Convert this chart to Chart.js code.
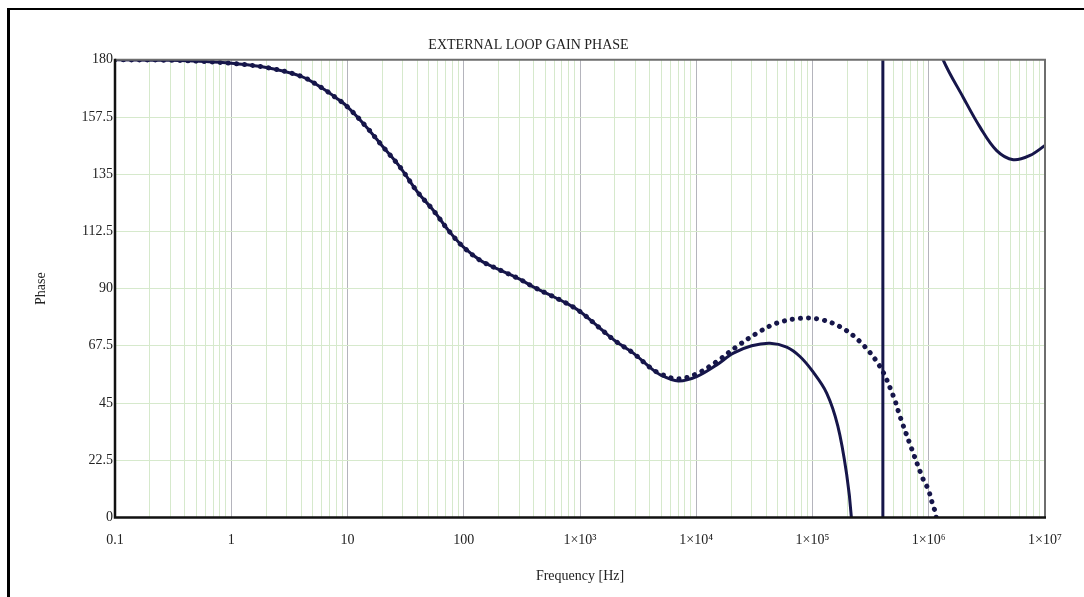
<!DOCTYPE html>
<html>
<head>
<meta charset="utf-8">
<title>External loop gain phase</title>
<script src="https://cdn.jsdelivr.net/npm/chart.js@4.4.1/dist/chart.umd.min.js"></script>
<style>
  html, body { margin: 0; padding: 0; background: #fff; }
  #wrap { position: relative; width: 1084px; height: 597px; overflow: hidden; }
  #frame { position: absolute; left: 7px; top: 8px; width: 1100px; height: 620px;
           border-left: 3px solid #000; border-top: 2px solid #000; }
  #chart { position: absolute; left: 0; top: 0; }
</style>
</head>
<body>
<div id="wrap">
  <div id="frame"></div>
  <canvas id="chart" width="1084" height="597"></canvas>
</div>
<script>
// solid curve (full loop)
var solidFreq  = [0.1, 0.3, 0.6, 1, 2, 4, 6, 8, 10, 14.6, 20, 28.3, 40, 54.7, 75, 99, 140, 205, 300, 396, 550, 767, 1000, 1486, 2000, 2877, 4000, 5000, 7000, 10090, 15000, 20840, 30000, 43050, 60000, 78000, 100000, 132400, 165000, 196700, 216000, 260000, 320000, 403000];
var solidPhase = [180, 179.8, 179.3, 178.6, 177, 173.5, 169, 165, 161.5, 153.5, 146, 137.8, 128, 120.8, 112.5, 106.4, 101, 97.3, 93.8, 90.7, 87.5, 84.2, 81, 74.4, 69.5, 64.6, 59, 55.9, 53.7, 55.4, 60, 64.6, 67.5, 68.5, 67, 63.3, 57.5, 48.9, 36, 17, 0, -60, -130, -190];

// phase wrap (vertical jump)
var wrapFreq  = [403000, 403000];
var wrapPhase = [-190, 370];

// solid curve after the wrap
var upperFreq  = [403000, 600000, 900000, 1150000, 1330000, 1980000, 2760000, 3840000, 5340000, 7430000, 10000000];
var upperPhase = [370, 290, 220, 190, 180, 165.2, 153.5, 144.3, 140.7, 142.4, 146.3];

// dotted curve
var dotFreq  = [0.1, 0.3, 0.6, 1, 2, 4, 6, 8, 10, 14.6, 20, 28.3, 40, 54.7, 75, 99, 140, 205, 300, 396, 550, 767, 1000, 1486, 2000, 2877, 4000, 5000, 7000, 10090, 15000, 22300, 33100, 49200, 78000, 116000, 172600, 256700, 381000, 497000, 566000, 700000, 897000, 991000, 1060000, 1130000, 1160000];
var dotPhase = [180, 179.8, 179.3, 178.6, 177, 173.5, 169, 165, 161.5, 153.5, 146, 137.8, 128, 120.8, 112.5, 106.4, 101, 97.3, 93.8, 90.7, 87.5, 84.2, 81, 74.4, 69.5, 64.6, 59, 56.3, 54.5, 56.5, 61.3, 67.2, 72.4, 76.4, 78.3, 77.9, 75, 69.1, 59.3, 47.6, 39.7, 28, 14.9, 11, 6.4, 2.5, 0];

var yTicks = [0, 22.5, 45, 67.5, 90, 112.5, 135, 157.5, 180];
var decades = [-1, 0, 1, 2, 3, 4, 5, 6, 7];

var lineColor = '#16164a';
var sup = {'3': '\u00b3', '4': '\u2074', '5': '\u2075', '6': '\u2076', '7': '\u2077'};

function pts(xs, ys) {
  return xs.map(function(x, i){ return {x: x, y: ys[i]}; });
}

function isDecade(v) {
  var l = Math.log10(v);
  return Math.abs(l - Math.round(l)) < 1e-9;
}

function freqLabel(v) {
  if (!isDecade(v)) return '';
  var e = Math.round(Math.log10(v));
  if (e < 3) return String(Number(v.toPrecision(6)));
  return '1\u00d710' + sup[String(e)];
}

var frameBox = {
  id: 'frameBox',
  afterDraw: function(chart){
    var a = chart.chartArea, c = chart.ctx;
    c.save();
    c.strokeStyle = '#6e6e6e';
    c.lineWidth = 2;
    c.beginPath();
    c.moveTo(a.left, a.top);
    c.lineTo(a.right, a.top);
    c.lineTo(a.right, a.bottom);
    c.stroke();
    c.strokeStyle = '#111';
    c.lineWidth = 2.5;
    c.beginPath();
    c.moveTo(a.left, a.top - 1);
    c.lineTo(a.left, a.bottom);
    c.lineTo(a.right + 1, a.bottom);
    c.stroke();
    c.restore();
  }
};

var font = {family: '"Liberation Serif", "Times New Roman", serif', size: 14};

new Chart(document.getElementById('chart').getContext('2d'), {
  type: 'scatter',
  data: {
    datasets: [{
      data: pts(dotFreq, dotPhase),
      showLine: true,
      borderColor: lineColor,
      borderWidth: 5,
      borderDash: [0.1, 8],
      borderCapStyle: 'round',
      tension: 0.35,
      pointRadius: 0
    }, {
      data: pts(solidFreq, solidPhase),
      showLine: true,
      borderColor: lineColor,
      borderWidth: 3,
      tension: 0.35,
      pointRadius: 0
    }, {
      data: pts(wrapFreq, wrapPhase),
      showLine: true,
      borderColor: lineColor,
      borderWidth: 3,
      tension: 0,
      pointRadius: 0
    }, {
      data: pts(upperFreq, upperPhase),
      showLine: true,
      borderColor: lineColor,
      borderWidth: 3,
      tension: 0.35,
      pointRadius: 0
    }]
  },
  options: {
    responsive: false,
    animation: false,
    layout: { padding: { left: 12, right: 39, top: 37, bottom: 12 } },
    plugins: {
      legend: { display: false },
      tooltip: { enabled: false },
      title: {
        display: true,
        text: 'EXTERNAL LOOP GAIN PHASE',
        color: '#222',
        font: { family: font.family, size: 14, weight: 'normal' },
        padding: { top: 0, bottom: 6 }
      }
    },
    scales: {
      x: {
        type: 'logarithmic',
        min: 0.1,
        max: 1e7,
        afterBuildTicks: function(scale){
          var t = [];
          decades.forEach(function(e){
            for (var m = 1; m <= 9; m++) {
              var v = Number((m * Math.pow(10, e)).toPrecision(10));
              if (v >= 0.1 && v <= 1e7) t.push({value: v});
              if (e === 7) break;
            }
          });
          scale.ticks = t;
        },
        ticks: {
          autoSkip: false,
          maxRotation: 0,
          padding: 15,
          color: '#222',
          font: font,
          callback: function(v){ return freqLabel(v); }
        },
        grid: {
          drawTicks: false,
          lineWidth: 1,
          color: function(ctx){
            return ctx.tick && isDecade(ctx.tick.value) ? '#b4b4bc' : '#d6e9cc';
          }
        },
        border: { display: false },
        title: {
          display: true,
          text: 'Frequency [Hz]',
          color: '#222',
          font: font,
          padding: { top: 4, bottom: 0 }
        }
      },
      y: {
        min: 0,
        max: 180,
        afterBuildTicks: function(scale){
          scale.ticks = yTicks.map(function(v){ return {value: v}; });
        },
        afterFit: function(scale){ scale.width = 103; },
        ticks: {
          padding: 2,
          color: '#222',
          font: font,
          callback: function(v){ return String(v); }
        },
        grid: { drawTicks: false, color: '#d6e9cc', lineWidth: 1 },
        border: { display: false },
        title: {
          display: true,
          text: 'Phase',
          color: '#222',
          font: font,
          padding: { top: 21, bottom: 0 }
        }
      }
    }
  },
  plugins: [frameBox]
});
</script>
</body>
</html>
